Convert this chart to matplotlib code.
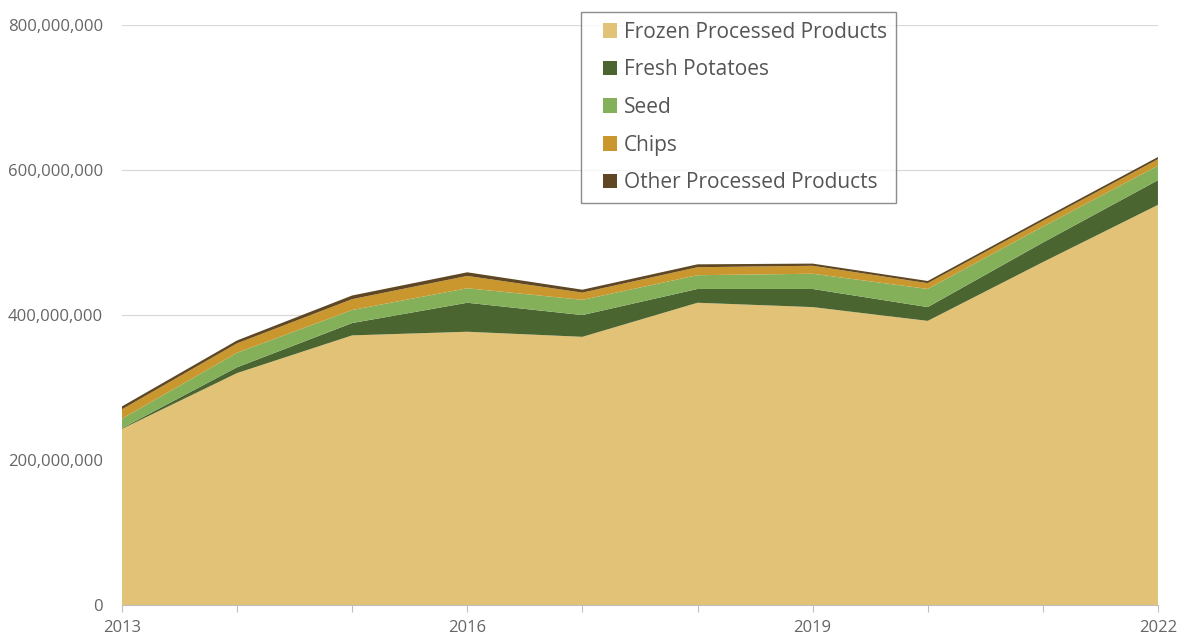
import numpy as np
import matplotlib.pyplot as plt
from matplotlib.patches import Rectangle
from matplotlib.legend_handler import HandlerPatch
from matplotlib.ticker import FuncFormatter

plt.rcParams['font.family'] = ['Open Sans', 'DejaVu Sans']

# Values in millions
years = [2013, 2014, 2015, 2016, 2017, 2018, 2019, 2020, 2021, 2022]
frozen = [243, 320, 372, 377, 370, 417, 411, 392, 473, 552]
fresh = [1, 8, 17, 40, 30, 19, 25, 19, 27, 34]
seed = [13, 20, 18, 20, 21, 19, 21, 25, 22, 20]
chips = [13, 13, 15, 17, 10, 11, 11, 8, 8, 9]
other = [4, 4, 5, 5, 4, 4, 3, 3, 3, 3]

labels = ['Frozen Processed Products', 'Fresh Potatoes', 'Seed', 'Chips',
          'Other Processed Products']
colors = ['#E2C277', '#4A6530', '#84B05A', '#C9972E', '#5E4722']
label_years = [2013, 2016, 2019, 2022]

series = np.array([frozen, fresh, seed, chips, other]) * 1e6


# square legend marker pushed to the right of the handle box
def square_patch(legend, orig_handle, xdescent, ydescent, width, height, fontsize):
    s = height
    return Rectangle((width - s - xdescent, -ydescent), s, s)


fig = plt.figure(figsize=(11.84, 6.43), dpi=100)
ax = fig.add_axes([0.103, 0.059, 0.875, 0.902])

ax.stackplot(years, series, colors=colors, linewidth=0)

ax.set_xlim(2013, 2022)
ax.set_ylim(0, 800e6)
ax.set_yticks([0, 200e6, 400e6, 600e6, 800e6])
ax.yaxis.set_major_formatter(FuncFormatter(lambda v, p: f'{v:,.0f}'))
ax.set_xticks(years)
ax.set_xticklabels([str(y) if y in label_years else '' for y in years])

ax.grid(axis='y', color='#d9d9d9', linewidth=0.9)
ax.set_axisbelow(True)
for s in ['top', 'right', 'left']:
    ax.spines[s].set_visible(False)
ax.spines['bottom'].set_color('#bfbfbf')
ax.tick_params(axis='y', length=0, labelsize=12, labelcolor='#666666', pad=13.5)
ax.tick_params(axis='x', length=5, color='#bfbfbf', labelsize=12,
               labelcolor='#666666', pad=6)

handles = [Rectangle((0, 0), 1, 1, facecolor=c, edgecolor='none') for c in colors]
leg = ax.legend(handles, labels, loc='upper left', bbox_to_anchor=(0.443, 1.022),
                fontsize=15, frameon=True, fancybox=False, edgecolor='#707070',
                labelspacing=0.8, handlelength=1.3, handleheight=0.7,
                handletextpad=0.3, borderpad=0.45, borderaxespad=0,
                labelcolor='#555555',
                handler_map={Rectangle: HandlerPatch(patch_func=square_patch)})
leg.get_frame().set_linewidth(1.0)

fig.savefig('out.png', dpi=100)
